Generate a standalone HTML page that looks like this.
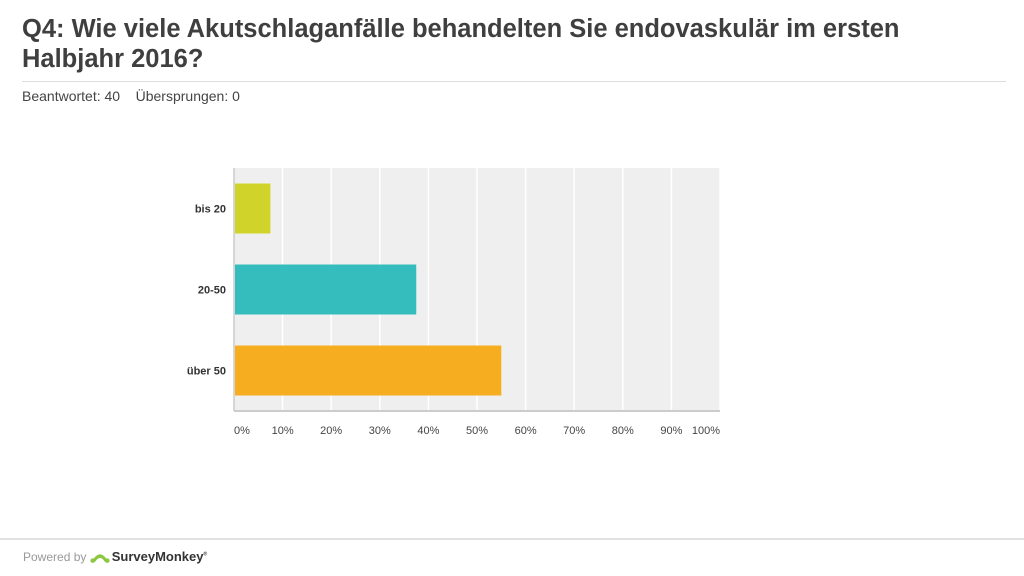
<!DOCTYPE html>
<html><head><meta charset="utf-8"><style>
body{margin:0;width:1024px;height:576px;background:#fff;font-family:"Liberation Sans",sans-serif;overflow:hidden;position:relative}
#title{position:absolute;left:22px;top:14px;font-size:25.5px;font-weight:bold;color:#3f3f3f;line-height:30px;width:920px}
#hr1{position:absolute;left:22px;top:81px;width:984px;height:1px;background:#ddd}
#sub{position:absolute;left:22px;top:88px;font-size:14px;color:#444}
#hr2{position:absolute;left:0;top:538px;width:1024px;height:2px;background:#e2e2e2}
#foot{position:absolute;left:23px;top:549px;font-size:12px;color:#999;display:flex;align-items:center}
</style></head><body>
<div id="title">Q4: Wie viele Akutschlaganfälle behandelten Sie endovaskulär im ersten Halbjahr 2016?</div>
<div id="hr1"></div>
<div id="sub">Beantwortet: 40 &nbsp;&nbsp;&nbsp;Übersprungen: 0</div>
<svg id="chart" width="1024" height="576" style="position:absolute;left:0;top:0"></svg>
<div id="hr2"></div>
<div id="foot">Powered by&nbsp;
<svg width="20" height="14" viewBox="0 0 22 14"><path d="M2 12 Q11 -4 20 12 L16 12 Q11 4 6 12Z" fill="#8dc63f"/><circle cx="3" cy="11" r="2.5" fill="#8dc63f"/><circle cx="19" cy="11" r="2.5" fill="#8dc63f"/></svg>
<span style="font-size:13px;font-weight:bold;color:#333;margin-left:2px">SurveyMonkey<sup style="font-size:5px">®</sup></span></div>
<script>
const categories=["bis 20","20-50","über 50"];
const values=[7.5,37.5,55];
const colors=["#d0d42a","#35bdbd","#f6ae20"];
const ticks=[0,10,20,30,40,50,60,70,80,90,100];
const NS="http://www.w3.org/2000/svg";
const svg=document.getElementById('chart');
const X0=234,X1=720,Y0=168,Y1=411;
const x=v=>X0+(v/100)*(X1-X0);
const band=(Y1-Y0)/categories.length;
const yc=i=>Y0+band*(i+0.5);
function mk(t,a){const e=document.createElementNS(NS,t);for(const k in a)e.setAttribute(k,a[k]);svg.appendChild(e);return e;}
const bg=mk('rect',{x:X0,y:Y0,width:X1-X0,height:Y1-Y0,fill:'#efefef'});


ticks.forEach(t=>{
 if(t>0){const g=mk('line',{x1:x(t),x2:x(t),y1:Y0,y2:Y1,stroke:'#fff','stroke-width':1.5});
 
 }
 let tx=x(t);if(t===0)tx+=8;if(t===100)tx-=14;
 const l=mk('text',{x:tx,y:434,'text-anchor':'middle','font-size':11,fill:'#444','font-family':'Liberation Sans, sans-serif'});
 l.textContent=t+'%';
 
 
});
const ax=mk('line',{x1:X0,x2:X1,y1:Y1,y2:Y1,stroke:'#ccc','stroke-width':2});


const ay=mk('line',{x1:X0,x2:X0,y1:Y0,y2:Y1,stroke:'#ccc','stroke-width':1.5});


categories.forEach((c,i)=>{
 const b=mk('rect',{x:X0+1,y:yc(i)-25,width:x(values[i])-X0-1,height:50,fill:colors[i]});
 
 
 const l=mk('text',{x:X0-8,y:yc(i)+4,'text-anchor':'end','font-size':11,'font-weight':'bold',fill:'#333','font-family':'Liberation Sans, sans-serif'});
 l.textContent=c;
 
 
});
</script>
</body></html>
